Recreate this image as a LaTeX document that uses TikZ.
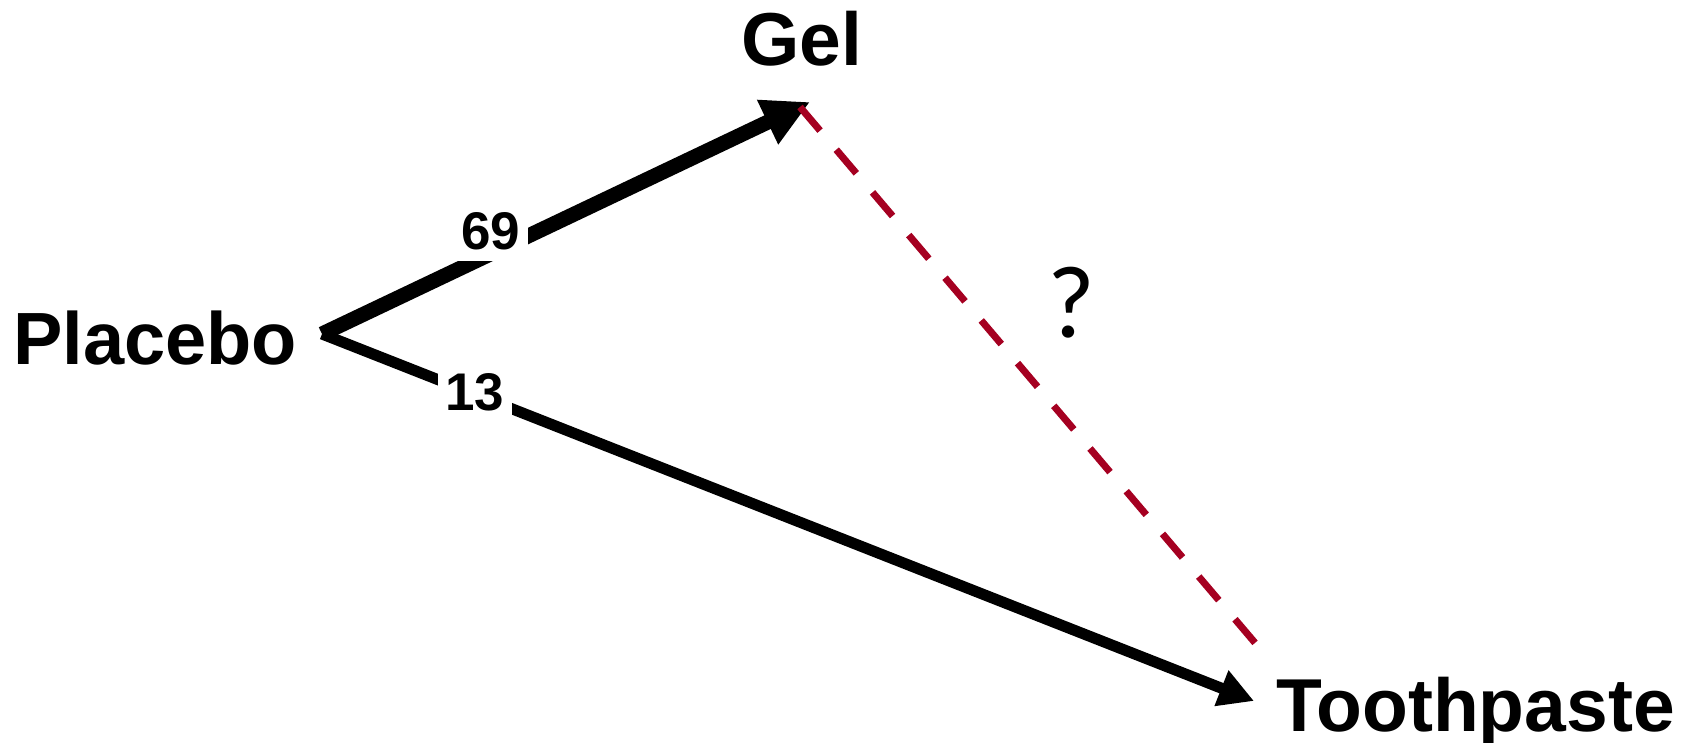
\documentclass[tikz,border=0pt]{standalone}
\usepackage{fontspec}
\setmainfont{Liberation Sans}
\newfontfamily\qfont{Carlito}
\usetikzlibrary{arrows.meta}
\definecolor{dashred}{RGB}{165,0,33}
\tikzset{
  bigtext/.style={inner sep=0pt, font=\bfseries\fontsize{75}{82}\selectfont},
  numlbl/.style={fill=white, inner xsep=8pt, inner ysep=10pt, font=\bfseries\fontsize{53}{60}\selectfont},
  thickarrow/.style={line width=15pt, line cap=butt, -{Triangle[length=47pt,width=46pt]}},
  thinarrow/.style={line width=11pt, line cap=butt, -{Triangle[length=35pt,width=36pt]}},
  unknown/.style={draw=dashred, line width=7pt, dash pattern=on 31pt off 25pt}
}
\begin{document}
\begin{tikzpicture}[x=1pt,y=-1pt]
\useasboundingbox (0,0) rectangle (1694,743);
\node[bigtext, anchor=base west, font=\bfseries\fontsize{74}{80}\selectfont] (placebo) at (13,364) {Placebo};
\node[bigtext, anchor=base west] (gel) at (741,66) {Gel};
\node[bigtext, anchor=base west] (tooth) at (1276,731) {Toothpaste};
\coordinate (start) at (322,334);
\coordinate (geltip) at (810,102);
\coordinate (tptip) at (1254,701);
\coordinate (dashA) at (800,107);
\coordinate (dashB) at (1256,644);
\draw[thickarrow] (start) -- (geltip);
\draw[thinarrow] (start) -- (tptip);
\draw[unknown] (dashA) -- (dashB);
\node[numlbl, anchor=base] (n69) at (491,250) {69};
\node[numlbl, anchor=base] (n13) at (475,410) {13};
\node[inner sep=0pt, anchor=base, font=\qfont\fontsize{103}{110}\selectfont] (q) at (1071,337) {?};
\end{tikzpicture}
\end{document}
